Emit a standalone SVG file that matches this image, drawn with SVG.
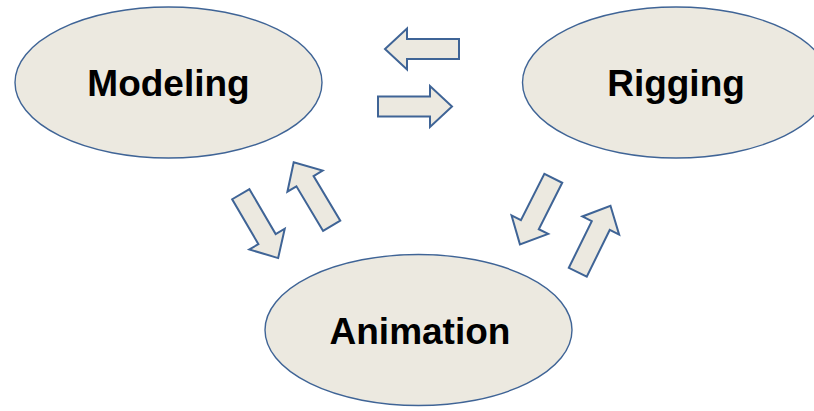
<svg xmlns="http://www.w3.org/2000/svg" width="814" height="411" viewBox="0 0 814 411">
<style>
.node{fill:#ECE9E0;stroke:#3F6496;stroke-width:1.4}
.lbl{font-family:"Liberation Sans",Arial,sans-serif;font-weight:bold;font-size:37px;fill:#000;text-anchor:middle}
.arr{fill:#ECE9E0;stroke:#3F6496;stroke-width:2;stroke-linejoin:miter}
</style>
<defs>
<path id="a" d="M0,-10 H52 V-20.5 L74,0 L52,20.5 V10 H0 Z"/>
</defs>
<rect width="814" height="411" fill="#fff"/>
<g id="connectors">
<use href="#a" class="arr" transform="translate(459,49) rotate(180)"/>
<use href="#a" class="arr" transform="translate(378,106.5)"/>
<use href="#a" class="arr" transform="translate(240.8,194.2) rotate(59.7)"/>
<use href="#a" class="arr" transform="translate(331.7,225.8) rotate(-120.9)"/>
<use href="#a" class="arr" transform="translate(553.3,178.3) rotate(116.8)"/>
<use href="#a" class="arr" transform="translate(577.8,272.2) rotate(-63.8)"/>
</g>
<g id="modeling">
<ellipse class="node" cx="168.5" cy="82.5" rx="153.5" ry="75.5"/>
<text class="lbl" x="168.5" y="96">Modeling</text>
</g>
<g id="rigging">
<ellipse class="node" cx="676" cy="82.5" rx="153.5" ry="75.5"/>
<text class="lbl" x="676" y="96">Rigging</text>
</g>
<g id="animation">
<ellipse class="node" cx="418.5" cy="330" rx="153.5" ry="75.5"/>
<text class="lbl" x="420" y="344">Animation</text>
</g>
</svg>
